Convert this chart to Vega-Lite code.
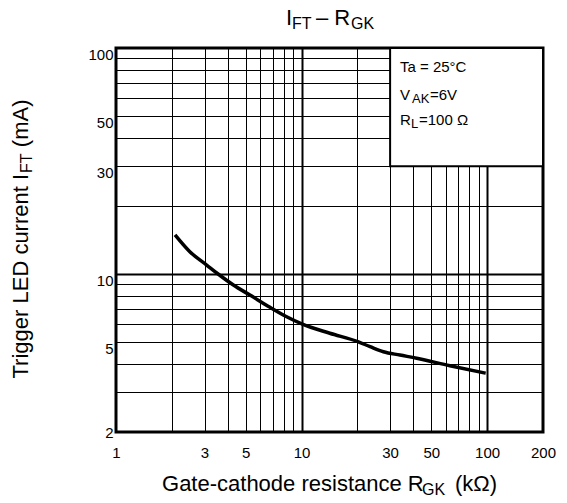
{
  "$schema": "https://vega.github.io/schema/vega-lite/v6.json",
  "width": 427,
  "height": 384,
  "autosize": {"type": "none"},
  "padding": {"left": 116, "top": 48, "right": 24, "bottom": 71},
  "background": "white",
  "config": {
    "view": {"stroke": "#000", "strokeWidth": 3},
    "font": "Liberation Sans",
    "text": {"font": "Liberation Sans", "color": "#000"}
  },
  "datasets": {
    "curve": [
      {"x": 2.08, "y": 14.9},
      {"x": 2.5, "y": 12.55},
      {"x": 3.08, "y": 10.96},
      {"x": 3.55, "y": 10.0},
      {"x": 4.29, "y": 8.94},
      {"x": 5.27, "y": 8.07},
      {"x": 6.76, "y": 7.12},
      {"x": 8.31, "y": 6.47},
      {"x": 10.1, "y": 6.0},
      {"x": 14.2, "y": 5.47},
      {"x": 20.1, "y": 5.02},
      {"x": 23.4, "y": 4.77},
      {"x": 27.6, "y": 4.53},
      {"x": 33.9, "y": 4.38},
      {"x": 41.7, "y": 4.24},
      {"x": 63, "y": 3.93},
      {"x": 98.2, "y": 3.64}
    ],
    "box": [{"x": 30, "x2": 200, "y": 30, "y2": 100}],
    "labels": [
      {"g": "m", "t": "I", "x": 8.245, "y": 126.4},
      {"g": "m", "t": "– R", "x": 11.96, "y": 126.4},
      {"g": "m", "t": "Gate-cathode resistance R", "x": 1.77, "y": 1.096},
      {"g": "m", "t": "(kΩ)", "x": 67.1, "y": 1.096},
      {"g": "s", "t": "FT", "x": 8.88, "y": 126.4},
      {"g": "s", "t": "GK", "x": 18.47, "y": 126.4},
      {"g": "s", "t": "GK", "x": 44.6, "y": 1.096},
      {"g": "rm", "t": "Trigger LED current I", "x": 0.3356, "y": 3.449},
      {"g": "rm", "t": "(mA)", "x": 0.3356, "y": 36.4},
      {"g": "rs", "t": "FT", "x": 0.3356, "y": 27.96},
      {"g": "b", "t": "Ta = 25°C", "x": 33.9, "y": 78.6},
      {"g": "b", "t": "V", "x": 33.9, "y": 58.9},
      {"g": "b", "t": "=6V", "x": 49.2, "y": 58.9},
      {"g": "b", "t": "R", "x": 33.9, "y": 45.6},
      {"g": "b", "t": "=100 Ω", "x": 42.9, "y": 45.6},
      {"g": "bs", "t": "AK", "x": 39.37, "y": 58.9},
      {"g": "bs", "t": "L", "x": 38.88, "y": 45.6}
    ]
  },
  "layer": [
    {
      "data": {"name": "box"},
      "mark": {"type": "rect", "fill": "white", "stroke": "#000", "strokeWidth": 2},
      "encoding": {
        "x": {
          "field": "x", "type": "quantitative", "title": null,
          "scale": {"type": "log", "domain": [1, 200], "nice": false},
          "axis": {
            "values": [1, 2, 3, 4, 5, 6, 7, 8, 9, 10, 20, 30, 40, 50, 60, 70, 80, 90, 100, 200],
            "labelExpr": "indexof([1,3,5,10,30,50,100,200], datum.value) >= 0 ? format(datum.value, 'd') : ''",
            "grid": true, "gridColor": "#000", "gridOpacity": 1,
            "gridWidth": {"condition": {"test": "datum.value == 10 || datum.value == 100", "value": 2}, "value": 1},
            "ticks": false, "domain": false,
            "labelFontSize": 15, "labelColor": "#000", "labelFont": "Liberation Sans",
            "labelPadding": 13, "labelOverlap": false, "labelFlush": false, "labelBound": false,
            "title": null
          }
        },
        "x2": {"field": "x2"},
        "y": {
          "field": "y", "type": "quantitative", "title": null,
          "scale": {"type": "log", "domain": [2, 100], "nice": false},
          "axis": {
            "values": [2, 3, 4, 5, 6, 7, 8, 9, 10, 20, 30, 40, 50, 60, 70, 80, 90, 100],
            "labelExpr": "indexof([2,5,10,30,50,100], datum.value) >= 0 ? format(datum.value, 'd') : ''",
            "grid": true, "gridColor": "#000", "gridOpacity": 1,
            "gridWidth": {"condition": {"test": "datum.value == 10", "value": 2}, "value": 1},
            "ticks": false, "domain": false,
            "labelFontSize": 15, "labelColor": "#000", "labelFont": "Liberation Sans",
            "labelPadding": 3, "labelOverlap": false, "labelFlush": false, "labelBound": false,
            "labelBaseline": {"condition": {"test": "datum.value == 2", "value": "middle"}, "value": "top"},
            "labelOffset": {"condition": {"test": "datum.value == 2", "value": 0}, "value": -1},
            "title": null
          }
        },
        "y2": {"field": "y2"}
      }
    },
    {
      "data": {"name": "curve"},
      "mark": {"type": "line", "color": "#000", "strokeWidth": 3.5, "interpolate": "monotone"},
      "encoding": {
        "x": {"field": "x", "type": "quantitative", "title": null},
        "y": {"field": "y", "type": "quantitative", "title": null}
      }
    },
    {
      "data": {"name": "labels"},
      "transform": [{"filter": "datum.g == 'm'"}],
      "mark": {"type": "text", "fontSize": 22, "align": "left", "baseline": "alphabetic"},
      "encoding": {
        "x": {"field": "x", "type": "quantitative", "title": null},
        "y": {"field": "y", "type": "quantitative", "title": null},
        "text": {"field": "t"}
      }
    },
    {
      "data": {"name": "labels"},
      "transform": [{"filter": "datum.g == 's'"}],
      "mark": {"type": "text", "fontSize": 16, "align": "left", "baseline": "alphabetic", "dy": 4},
      "encoding": {
        "x": {"field": "x", "type": "quantitative", "title": null},
        "y": {"field": "y", "type": "quantitative", "title": null},
        "text": {"field": "t"}
      }
    },
    {
      "data": {"name": "labels"},
      "transform": [{"filter": "datum.g == 'rm'"}],
      "mark": {"type": "text", "fontSize": 22, "align": "left", "baseline": "alphabetic", "angle": 270},
      "encoding": {
        "x": {"field": "x", "type": "quantitative", "title": null},
        "y": {"field": "y", "type": "quantitative", "title": null},
        "text": {"field": "t"}
      }
    },
    {
      "data": {"name": "labels"},
      "transform": [{"filter": "datum.g == 'rs'"}],
      "mark": {"type": "text", "fontSize": 16, "align": "left", "baseline": "alphabetic", "angle": 270, "dy": 4},
      "encoding": {
        "x": {"field": "x", "type": "quantitative", "title": null},
        "y": {"field": "y", "type": "quantitative", "title": null},
        "text": {"field": "t"}
      }
    },
    {
      "data": {"name": "labels"},
      "transform": [{"filter": "datum.g == 'b'"}],
      "mark": {"type": "text", "fontSize": 15, "align": "left", "baseline": "alphabetic"},
      "encoding": {
        "x": {"field": "x", "type": "quantitative", "title": null},
        "y": {"field": "y", "type": "quantitative", "title": null},
        "text": {"field": "t"}
      }
    },
    {
      "data": {"name": "labels"},
      "transform": [{"filter": "datum.g == 'bs'"}],
      "mark": {"type": "text", "fontSize": 13, "align": "left", "baseline": "alphabetic", "dy": 3},
      "encoding": {
        "x": {"field": "x", "type": "quantitative", "title": null},
        "y": {"field": "y", "type": "quantitative", "title": null},
        "text": {"field": "t"}
      }
    }
  ]
}
